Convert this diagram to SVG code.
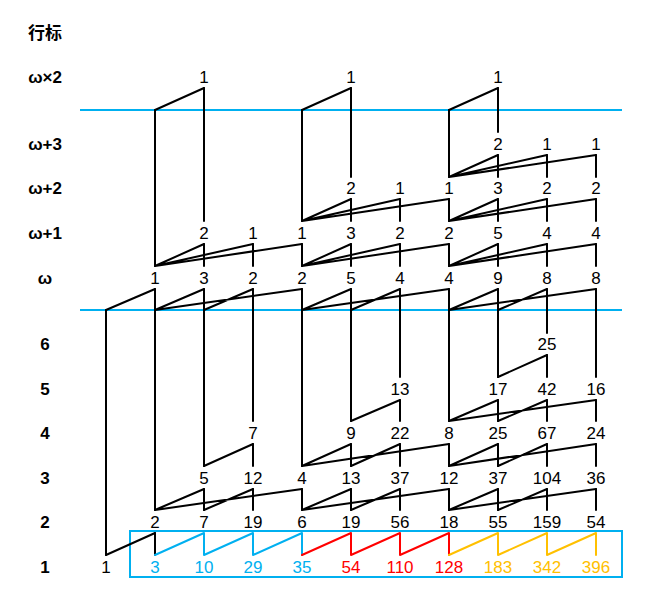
<svg xmlns="http://www.w3.org/2000/svg" width="655" height="600" viewBox="0 0 655 600">
<style>
.n{font-family:"Liberation Sans",Arial,sans-serif;font-size:17px;text-anchor:middle;fill:#000}
.rl{font-family:"Liberation Sans","Noto Sans CJK SC",sans-serif;font-size:17px;font-weight:bold;text-anchor:middle;fill:#000}
.b{fill:#00B0F0}.r{fill:#FF0000}.o{fill:#FFC000}
.ln{fill:none;stroke:#000;stroke-width:2;stroke-linecap:round;stroke-linejoin:round}
.sep{stroke:#00B0F0;stroke-width:2}
</style>
<rect width="655" height="600" fill="#fff"/>
<g id="row-labels">
<text class="rl" x="45" y="39">行标</text>
<text class="rl" x="45" y="83">ω×2</text>
<text class="rl" x="45" y="149.5">ω+3</text>
<text class="rl" x="45" y="194">ω+2</text>
<text class="rl" x="45" y="238.5">ω+1</text>
<text class="rl" x="45" y="283.5">ω</text>
<text class="rl" x="45" y="350">6</text>
<text class="rl" x="45" y="394.5">5</text>
<text class="rl" x="45" y="438.5">4</text>
<text class="rl" x="45" y="483.5">3</text>
<text class="rl" x="45" y="527.5">2</text>
<text class="rl" x="45" y="572.5">1</text>
</g>
<g id="separators">
<line class="sep" x1="80" y1="110" x2="622" y2="110"/>
<line class="sep" x1="80" y1="310" x2="622" y2="310"/>
<rect x="130" y="531" width="492" height="46" fill="none" stroke="#00B0F0" stroke-width="2"/>
</g>
<g id="connectors">
<path class="ln" d="M106 310V555 M155 110V266 M155 289V510 M155 533V555
M204 88V221 M204 244V266 M204 289V466 M204 489V510
M253 244V266 M253 289V421 M253 444V466 M253 489V510
M302 110V221 M302 244V266 M302 289V466 M302 489V510
M351 88V177 M351 199V221 M351 244V266 M351 289V421 M351 444V466 M351 489V510
M400 199V221 M400 244V266 M400 289V377 M400 400V421 M400 444V466 M400 489V510
M449 110V177 M449 199V221 M449 244V266 M449 289V421 M449 444V466 M449 489V510
M498 88V132 M498 155V177 M498 199V221 M498 244V266 M498 289V377 M498 400V421 M498 444V466 M498 489V510
M547 155V177 M547 199V221 M547 244V266 M547 289V333 M547 355V377 M547 400V421 M547 444V466 M547 489V510
M596 155V177 M596 199V221 M596 244V266 M596 289V377 M596 400V421 M596 444V466 M596 489V510"/>
<path class="ln" d="M155 110L204 88 M302 110L351 88 M449 110L498 88
M449 177L498 155 M449 177L547 155 M449 177L596 155
M302 221L351 199 M302 221L400 199 M302 221L449 199 M449 221L498 199 M449 221L547 199 M449 221L596 199
M155 266L204 244 M155 266L253 244 M155 266L302 244 M302 266L351 244 M302 266L400 244 M302 266L449 244 M449 266L498 244 M449 266L547 244 M449 266L596 244
M106 310L155 289 M155 310L204 289 M204 310L253 289 M155 310L302 289 M302 310L351 289 M351 310L400 289 M302 310L449 289 M449 310L498 289 M498 310L547 289 M449 310L596 289
M498 377L547 355
M351 421L400 400 M449 421L498 400 M498 421L547 400 M449 421L596 400
M204 466L253 444 M302 466L351 444 M351 466L400 444 M302 466L449 444 M449 466L498 444 M498 466L547 444 M449 466L596 444
M155 510L204 489 M204 510L253 489 M155 510L302 489 M302 510L351 489 M351 510L400 489 M302 510L449 489 M449 510L498 489 M498 510L547 489 M449 510L596 489
M106 555L155 533"/>
<path class="ln" style="stroke:#00B0F0" d="M155 555L204 533V555L253 533V555L302 533V555"/>
<path class="ln" style="stroke:#FF0000" d="M302 555L351 533V555L400 533V555L449 533V555"/>
<path class="ln" style="stroke:#FFC000" d="M449 555L498 533V555L547 533V555L596 533V555"/>
</g>
<g id="n-w2"><text class="n" x="204" y="83">1</text><text class="n" x="351" y="83">1</text><text class="n" x="498" y="83">1</text></g>
<g id="n-w3"><text class="n" x="498" y="149.5">2</text><text class="n" x="547" y="149.5">1</text><text class="n" x="596" y="149.5">1</text></g>
<g id="n-w2p"><text class="n" x="351" y="194">2</text><text class="n" x="400" y="194">1</text><text class="n" x="449" y="194">1</text><text class="n" x="498" y="194">3</text><text class="n" x="547" y="194">2</text><text class="n" x="596" y="194">2</text></g>
<g id="n-w1"><text class="n" x="204" y="238.5">2</text><text class="n" x="253" y="238.5">1</text><text class="n" x="302" y="238.5">1</text><text class="n" x="351" y="238.5">3</text><text class="n" x="400" y="238.5">2</text><text class="n" x="449" y="238.5">2</text><text class="n" x="498" y="238.5">5</text><text class="n" x="547" y="238.5">4</text><text class="n" x="596" y="238.5">4</text></g>
<g id="n-w"><text class="n" x="155" y="283.5">1</text><text class="n" x="204" y="283.5">3</text><text class="n" x="253" y="283.5">2</text><text class="n" x="302" y="283.5">2</text><text class="n" x="351" y="283.5">5</text><text class="n" x="400" y="283.5">4</text><text class="n" x="449" y="283.5">4</text><text class="n" x="498" y="283.5">9</text><text class="n" x="547" y="283.5">8</text><text class="n" x="596" y="283.5">8</text></g>
<g id="n-6"><text class="n" x="547" y="350">25</text></g>
<g id="n-5"><text class="n" x="400" y="394.5">13</text><text class="n" x="498" y="394.5">17</text><text class="n" x="547" y="394.5">42</text><text class="n" x="596" y="394.5">16</text></g>
<g id="n-4"><text class="n" x="253" y="438.5">7</text><text class="n" x="351" y="438.5">9</text><text class="n" x="400" y="438.5">22</text><text class="n" x="449" y="438.5">8</text><text class="n" x="498" y="438.5">25</text><text class="n" x="547" y="438.5">67</text><text class="n" x="596" y="438.5">24</text></g>
<g id="n-3"><text class="n" x="204" y="483.5">5</text><text class="n" x="253" y="483.5">12</text><text class="n" x="302" y="483.5">4</text><text class="n" x="351" y="483.5">13</text><text class="n" x="400" y="483.5">37</text><text class="n" x="449" y="483.5">12</text><text class="n" x="498" y="483.5">37</text><text class="n" x="547" y="483.5">104</text><text class="n" x="596" y="483.5">36</text></g>
<g id="n-2"><text class="n" x="155" y="527.5">2</text><text class="n" x="204" y="527.5">7</text><text class="n" x="253" y="527.5">19</text><text class="n" x="302" y="527.5">6</text><text class="n" x="351" y="527.5">19</text><text class="n" x="400" y="527.5">56</text><text class="n" x="449" y="527.5">18</text><text class="n" x="498" y="527.5">55</text><text class="n" x="547" y="527.5">159</text><text class="n" x="596" y="527.5">54</text></g>
<g id="n-1"><text class="n" x="106" y="572.5">1</text><text class="n b" x="155" y="572.5">3</text><text class="n b" x="204" y="572.5">10</text><text class="n b" x="253" y="572.5">29</text><text class="n b" x="302" y="572.5">35</text><text class="n r" x="351" y="572.5">54</text><text class="n r" x="400" y="572.5">110</text><text class="n r" x="449" y="572.5">128</text><text class="n o" x="498" y="572.5">183</text><text class="n o" x="547" y="572.5">342</text><text class="n o" x="596" y="572.5">396</text></g>
</svg>
